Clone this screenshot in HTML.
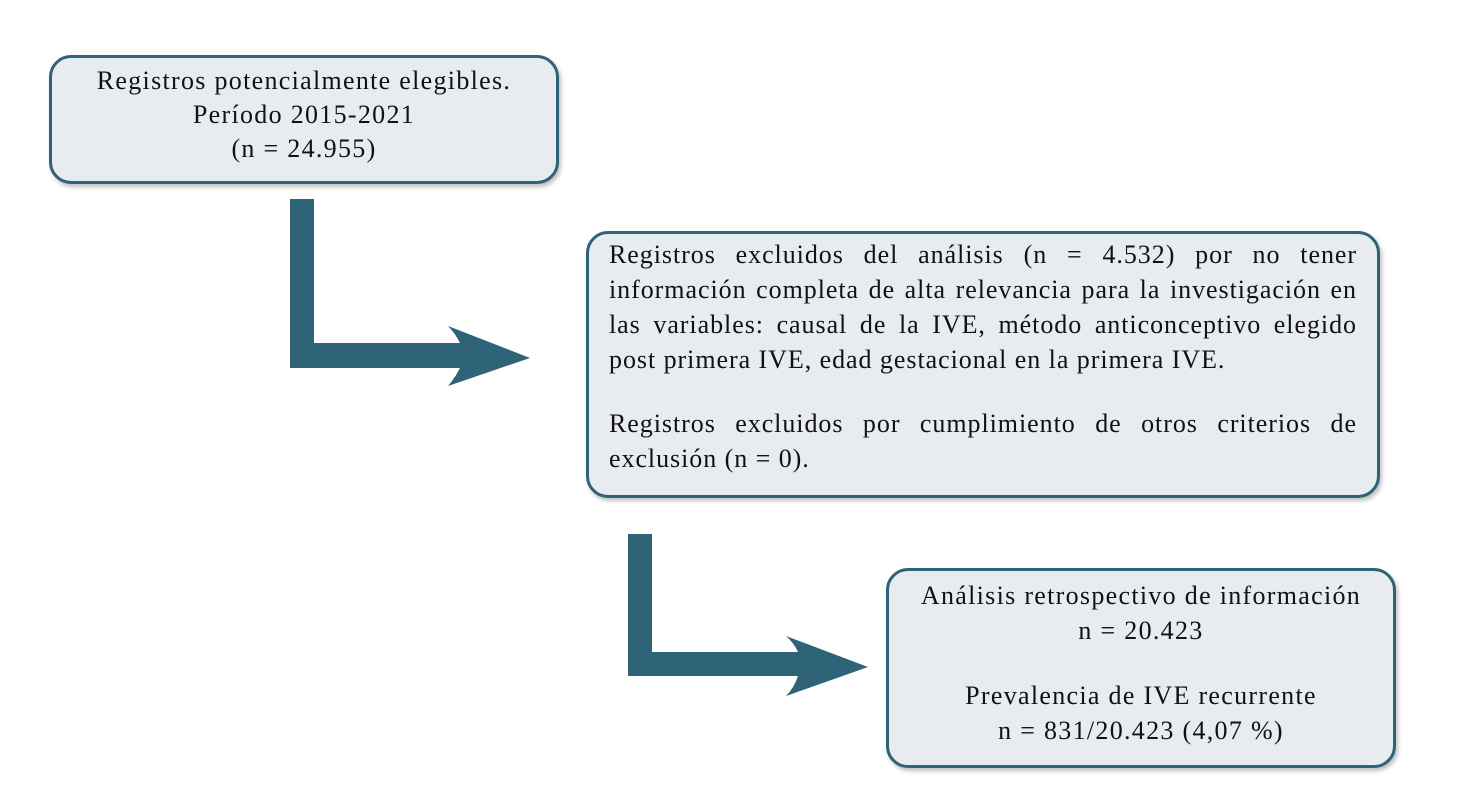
<!DOCTYPE html>
<html><head><meta charset="utf-8"><style>
body{margin:0;width:1462px;height:792px;background:#fff;position:relative;overflow:hidden;font-family:"Liberation Serif",serif;color:#111;}
.box{position:absolute;box-sizing:border-box;border:3px solid #2e6378;border-radius:22px;background:#e8ebef;box-shadow:2px 3px 4px rgba(0,0,0,0.25);font-size:26px;letter-spacing:1.3px;line-height:35px;}
.c{text-align:center}
.j{text-align:justify}
</style></head><body>
<div class="box c" style="left:49px;top:55px;width:510px;height:129px;padding-top:6px;line-height:34px;">Registros potencialmente elegibles.<br>Período 2015-2021<br>(n = 24.955)</div>
<div class="box j" style="left:586px;top:231px;width:794px;height:267px;padding:3px 20px 0 20px;letter-spacing:0.95px;">Registros excluidos del análisis (n = 4.532) por no tener información completa de alta relevancia para la investigación en las variables: causal de la IVE, método anticonceptivo elegido post primera IVE, edad gestacional en la primera IVE.<div style="height:29px"></div>Registros excluidos por cumplimiento de otros criterios de exclusión (n = 0).</div>
<div class="box c" style="left:886px;top:568px;width:510px;height:200px;padding-top:7px;">Análisis retrospectivo de información<br>n = 20.423<div style="height:30px"></div>Prevalencia de IVE recurrente<br>n = 831/20.423 (4,07 %)</div>
<svg width="1462" height="792" style="position:absolute;left:0;top:0">
<path d="M290 199 H314 V343 H460 Q455 333 448 326 L530 358 L448 386 Q455 378 460 368 H290 Z" fill="#2e6378"/>
<path d="M628 534 H652 V652 H798 Q794 643 786 636 L868 667 L786 696 Q794 688 798 676 H628 Z" fill="#2e6378"/>
</svg>
</body></html>
